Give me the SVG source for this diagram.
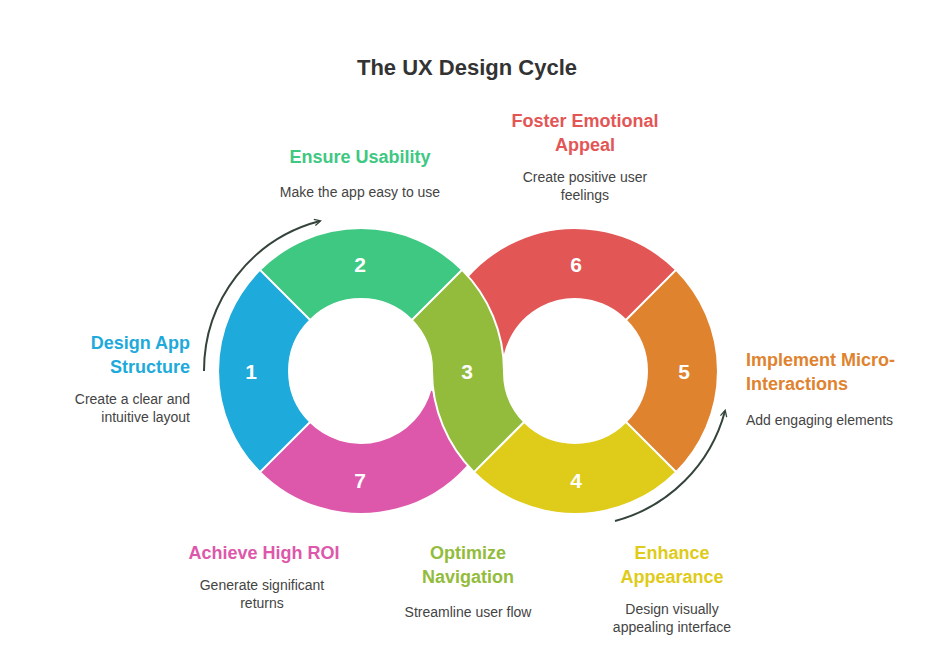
<svg xmlns="http://www.w3.org/2000/svg" width="928" height="651" viewBox="0 0 928 651">
<style>
.seg{stroke:#fff;stroke-width:2}
.num{font:bold 21px "Liberation Sans",Arial,sans-serif;fill:#fff;text-anchor:middle}
.h{font:bold 18px "Liberation Sans",Arial,sans-serif;text-anchor:middle}
.d{font:14px "Liberation Sans",Arial,sans-serif;fill:#444;text-anchor:middle}
.arr{fill:none;stroke:#34443a;stroke-width:2}
</style>
<defs><marker id="ah" viewBox="0 0 10 10" refX="8" refY="5" markerWidth="8" markerHeight="8" orient="auto" markerUnits="userSpaceOnUse"><path d="M1,1 L9,5 L1,9" fill="none" stroke="#34443a" stroke-width="1.6"/></marker></defs>
<rect width="928" height="651" fill="#fff"/>
<text x="467" y="75" style="font:bold 22px 'Liberation Sans',Arial,sans-serif;fill:#333;text-anchor:middle">The UX Design Cycle</text>
<g id="connectors">
<path class="arr" d="M204,371 A155 155 0 0 1 320,221" marker-end="url(#ah)"/>
<path class="arr" d="M615,521 A155 155 0 0 0 725,411" marker-end="url(#ah)"/>
</g>
<g id="n7"><path class="seg" fill="#dd58ab" d="M259.9,472.1 A143 143 0 0 0 499.1,408 L430.5,389.6 A72 72 0 0 1 310.1,421.9 Z"/><text class="num" x="360" y="488">7</text></g>
<g id="n6"><path class="seg" fill="#e35656" d="M676.1,269.9 A143 143 0 0 0 434.2,395.8 L504.1,383.5 A72 72 0 0 1 625.9,320.1 Z"/><text class="num" x="576" y="272">6</text></g>
<g id="n2"><path class="seg" fill="#3ec882" d="M462.1,269.9 A143 143 0 0 0 259.9,269.9 L310.1,320.1 A72 72 0 0 1 411.9,320.1 Z"/><text class="num" x="360" y="272">2</text></g>
<g id="n1"><path class="seg" fill="#1eaadb" d="M259.9,269.9 A143 143 0 0 0 259.9,472.1 L310.1,421.9 A72 72 0 0 1 310.1,320.1 Z"/><text class="num" x="251" y="379">1</text></g>
<g id="n5"><path class="seg" fill="#e0832f" d="M676.1,472.1 A143 143 0 0 0 676.1,269.9 L625.9,320.1 A72 72 0 0 1 625.9,421.9 Z"/><text class="num" x="684" y="379">5</text></g>
<g id="n4"><path class="seg" fill="#dfcb19" d="M473.9,472.1 A143 143 0 0 0 676.1,472.1 L625.9,421.9 A72 72 0 0 1 524.1,421.9 Z"/><text class="num" x="576" y="488">4</text></g>
<g id="n3"><path class="seg" fill="#93bc3c" d="M462.1,269.9 A143 143 0 0 1 504,371 A72 72 0 0 0 524.1,421.9 L473.9,472.1 A143 143 0 0 1 432,371 A72 72 0 0 0 411.9,320.1 Z"/><text class="num" x="467" y="379">3</text></g>
<g id="l2"><text class="h" x="360" y="163" fill="#3ec882">Ensure Usability</text><text class="d" x="360" y="197">Make the app easy to use</text></g>
<g id="l6"><text class="h" x="585" y="127" fill="#e35656">Foster Emotional</text><text class="h" x="585" y="151" fill="#e35656">Appeal</text><text class="d" x="585" y="182">Create positive user</text><text class="d" x="585" y="200">feelings</text></g>
<g id="l1" style="text-anchor:end"><text class="h" x="190" y="349" fill="#1eaadb" style="text-anchor:end">Design App</text><text class="h" x="190" y="373" fill="#1eaadb" style="text-anchor:end">Structure</text><text class="d" x="190" y="404" style="text-anchor:end">Create a clear and</text><text class="d" x="190" y="422" style="text-anchor:end">intuitive layout</text></g>
<g id="l5"><text class="h" x="746" y="366" fill="#e0832f" style="text-anchor:start">Implement Micro-</text><text class="h" x="746" y="390" fill="#e0832f" style="text-anchor:start">Interactions</text><text class="d" x="746" y="425" style="text-anchor:start">Add engaging elements</text></g>
<g id="l7"><text class="h" x="264" y="559" fill="#dd58ab">Achieve High ROI</text><text class="d" x="262" y="590">Generate significant</text><text class="d" x="262" y="608">returns</text></g>
<g id="l3"><text class="h" x="468" y="559" fill="#93bc3c">Optimize</text><text class="h" x="468" y="583" fill="#93bc3c">Navigation</text><text class="d" x="468" y="617">Streamline user flow</text></g>
<g id="l4"><text class="h" x="672" y="559" fill="#dfcb19">Enhance</text><text class="h" x="672" y="583" fill="#dfcb19">Appearance</text><text class="d" x="672" y="614">Design visually</text><text class="d" x="672" y="632">appealing interface</text></g>
</svg>
